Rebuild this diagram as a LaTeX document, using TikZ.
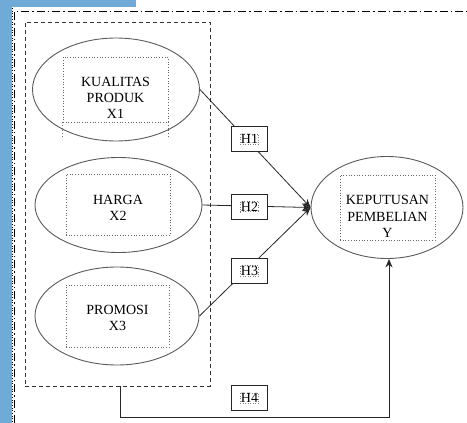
\documentclass[tikz,border=0pt]{standalone}
\usepackage{fontspec}
\setmainfont{Liberation Serif}
\usetikzlibrary{shapes.geometric,arrows.meta}
\definecolor{bgblue}{RGB}{112,170,214}
\definecolor{ellgray}{RGB}{90,90,90}
\tikzset{
  varell/.style={ellipse,draw=ellgray,line width=0.9pt,inner sep=0pt},
  innerrect/.style={draw=black!60,dotted,line width=0.7pt,inner sep=0pt},
  lbl/.style={font=\fontsize{14}{16.3}\selectfont,align=center,inner sep=0pt},
  hbox/.style={draw=black!85,fill=white,line width=0.8pt,minimum width=36pt,minimum height=25pt,inner sep=0pt},
  htext/.style={draw=gray,dotted,line width=0.5pt,inner sep=0.6pt,font=\fontsize{14}{16}\selectfont},
  conn/.style={draw=black!85,line width=0.8pt},
  tip/.style={-{Stealth[length=8.5pt,width=7pt]}}
}
\begin{document}
\begin{tikzpicture}[x=1pt,y=-1pt]
\useasboundingbox (0,0) rectangle (467,423);
% background image strip
\fill[bgblue] (0,0) rectangle (12,423);
\fill[bgblue] (0,0) rectangle (136,7);
\draw[black,dotted,line width=0.7pt] (12.5,8) -- (12.5,423);
\draw[black,line width=0.8pt,dash pattern=on 8pt off 3pt on 1.5pt off 3pt] (14.5,423) -- (14.5,11) -- (467,11);
% group box
\node[draw=black!80,dashed,line width=0.8pt,dash pattern=on 4pt off 3pt,minimum width=185pt,minimum height=364pt,inner sep=0pt] (grp) at (117.5,204) {};
% variable ellipses
\node[varell,minimum width=167pt,minimum height=103pt] (e1) at (116,89.5) {};
\node[innerrect,minimum width=105pt,minimum height=65pt] (r1) at (115.5,89.5) {};
\draw[black!60,dotted,line width=0.7pt] (r1.south west) -- ++(0,14) (r1.south east) -- ++(0,14);
\node[lbl] (t1) at (115.5,98) {KUALITAS\\PRODUK\\X1};
\node[varell,minimum width=167pt,minimum height=95pt] (e2) at (118.5,205) {};
\node[innerrect,minimum width=104pt,minimum height=61pt] (r2) at (118,204.5) {};
\node[lbl] (t2) at (118,208) {HARGA\\X2};
\node[varell,minimum width=164pt,minimum height=98pt] (e3) at (117,316) {};
\node[innerrect,minimum width=103pt,minimum height=62pt] (r3) at (117.5,316) {};
\node[lbl] (t3) at (117.5,318) {PROMOSI\\X3};
\node[varell,minimum width=152pt,minimum height=102pt] (ey) at (387,207.5) {};
\node[innerrect,minimum width=95pt,minimum height=65pt] (ry) at (387.5,207.5) {};
\node[lbl] (ty) at (387.5,216.5) {KEPUTUSAN\\PEMBELIAN\\Y};
% connectors
\draw[conn,tip] (e1.east) -- (ey.west);
\draw[conn,tip] (e2.east) -- (ey.west);
\draw[conn,tip] (e3.east) -- (ey.west);
\coordinate (turn) at (389,417);
\draw[conn,tip] ([xshift=2.5pt]grp.south) |- (turn) -- (ey.south -| turn);
% hypothesis boxes
\node[hbox] (h1) at (249.5,139) {}; \node[htext] at (h1) {H1};
\node[hbox] (h2) at (249.5,206.5) {}; \node[htext] at (h2) {H2};
\node[hbox] (h3) at (249.5,271) {}; \node[htext] at (h3) {H3};
\node[hbox] (h4) at (249.5,398) {}; \node[htext] at (h4) {H4};
\end{tikzpicture}
\end{document}
